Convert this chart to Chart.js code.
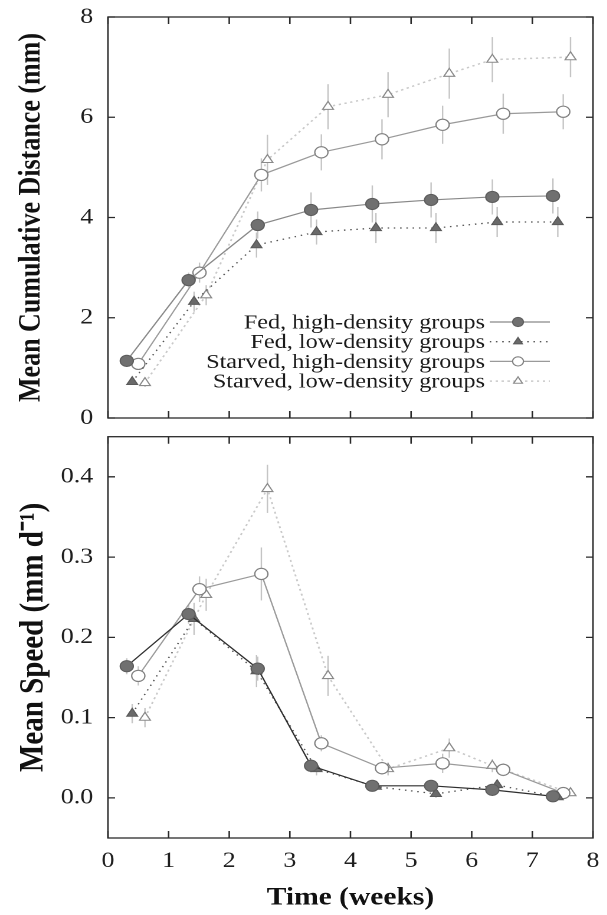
<!DOCTYPE html>
<html>
<head>
<meta charset="utf-8">
<script src="https://cdn.jsdelivr.net/npm/chart.js@4/dist/chart.umd.min.js"></script>
<style>
html, body { margin: 0; padding: 0; background: #fff; overflow: hidden; }
#wrap { position: relative; width: 607px; height: 915px; }
canvas { position: absolute; left: 0; transform-origin: 0 0; transform: scaleX(1.18); }
#topChart { top: 0; }
#bottomChart { top: 430px; }
</style>
</head>
<body>
<div id="wrap">
  <canvas id="topChart" width="514" height="430"></canvas>
  <canvas id="bottomChart" width="514" height="485"></canvas>
</div>
<script>
// the scanned figure is stretched sideways a little, so both canvases get scaleX(1.18)

const xTicks = [0, 1, 2, 3, 4, 5, 6, 7, 8];
const distTicks = [0, 2, 4, 6, 8];
const speedTicks = [0, 0.1, 0.2, 0.3, 0.4];

const seriesLabels = [
  'Fed, high-density groups',
  'Fed, low-density groups',
  'Starved, high-density groups',
  'Starved, low-density groups'
];

// time (weeks) of each sampling, groups are offset a little on the x axis
const timeFedHigh     = [0.31, 1.33, 2.47, 3.35, 4.36, 5.33, 6.34, 7.34];
const timeFedLow      = [0.40, 1.42, 2.45, 3.44, 4.42, 5.41, 6.42, 7.42];
const timeStarvedHigh = [0.50, 1.51, 2.53, 3.52, 4.52, 5.52, 6.52, 7.51];
const timeStarvedLow  = [0.61, 1.62, 2.63, 3.63, 4.62, 5.63, 6.34, 7.63];

// mean cumulative distance (mm) and error
const distFedHigh     = [1.14, 2.75, 3.85, 4.15, 4.27, 4.35, 4.41, 4.43];
const distFedLow      = [0.72, 2.32, 3.45, 3.71, 3.79, 3.79, 3.91, 3.91];
const distStarvedHigh = [1.08, 2.90, 4.85, 5.30, 5.56, 5.85, 6.07, 6.11];
const distStarvedLow  = [0.70, 2.45, 5.15, 6.21, 6.45, 6.87, 7.15, 7.20];

const errDistFedHigh     = [0.08, 0.15, 0.27, 0.35, 0.37, 0.35, 0.35, 0.35];
const errDistFedLow      = [0.06, 0.20, 0.25, 0.25, 0.30, 0.30, 0.30, 0.30];
const errDistStarvedHigh = [0.08, 0.20, 0.33, 0.36, 0.40, 0.38, 0.40, 0.35];
const errDistStarvedLow  = [0.08, 0.20, 0.50, 0.45, 0.45, 0.50, 0.45, 0.40];

// mean speed (mm/d) and error
const speedFedHigh     = [0.164, 0.229, 0.161, 0.040, 0.015, 0.015, 0.010, 0.002];
const speedFedLow      = [0.105, 0.223, 0.158, 0.036, 0.014, 0.005, 0.016, 0.001];
const speedStarvedHigh = [0.152, 0.260, 0.279, 0.068, 0.037, 0.043, 0.035, 0.006];
const speedStarvedLow  = [0.100, 0.253, 0.385, 0.152, 0.036, 0.062, 0.040, 0.006];

const errSpeedFedHigh     = [0.010, 0.012, 0.015, 0.008, 0.005, 0.005, 0.005, 0.003];
const errSpeedFedLow      = [0.012, 0.020, 0.020, 0.008, 0.005, 0.005, 0.005, 0.003];
const errSpeedStarvedHigh = [0.012, 0.016, 0.033, 0.010, 0.008, 0.012, 0.008, 0.004];
const errSpeedStarvedLow  = [0.012, 0.020, 0.030, 0.025, 0.008, 0.012, 0.008, 0.004];

const SERIF = '"Liberation Serif", "Times New Roman", serif';
Chart.defaults.font.family = SERIF;

function styleFedHigh(lineColor) {
  return { borderColor: lineColor, borderWidth: 1.2, pointStyle: 'circle', pointRadius: 5.6,
           pointBackgroundColor: '#707070', pointBorderColor: '#5c5c5c', pointBorderWidth: 1 };
}
function styleFedLow() {
  return { borderColor: '#555555', borderWidth: 1.3, borderDash: [1.3, 4], pointStyle: 'triangle', pointRadius: 5.3,
           pointBackgroundColor: '#6a6a6a', pointBorderColor: '#5a5a5a', pointBorderWidth: 1 };
}
function styleStarvedHigh() {
  return { borderColor: '#9a9a9a', borderWidth: 1.2, pointStyle: 'circle', pointRadius: 5.6,
           pointBackgroundColor: '#ffffff', pointBorderColor: '#808080', pointBorderWidth: 1.1 };
}
function styleStarvedLow() {
  return { borderColor: '#c9c9c9', borderWidth: 1.5, borderDash: [2, 3], pointStyle: 'triangle', pointRadius: 5.3,
           pointBackgroundColor: '#ffffff', pointBorderColor: '#8a8a8a', pointBorderWidth: 1.1 };
}

function series(label, xs, ys, errs, style) {
  return Object.assign({
    label: label,
    data: xs.map((x, i) => ({ x: x, y: ys[i] })),
    errors: errs,
    showLine: true,
    fill: false,
    tension: 0
  }, style);
}

const framePlugin = {
  id: 'frame',
  beforeDatasetsDraw(chart) {
    const { ctx, chartArea: a, scales: { x, y } } = chart;
    ctx.save();
    ctx.strokeStyle = '#2a2a2a';
    ctx.lineWidth = 1.3;
    ctx.strokeRect(a.left, a.top, a.right - a.left, a.bottom - a.top);
    ctx.beginPath();
    x.ticks.forEach(t => {
      const px = x.getPixelForValue(t.value);
      ctx.moveTo(px, a.top); ctx.lineTo(px, a.top + 7);
      ctx.moveTo(px, a.bottom); ctx.lineTo(px, a.bottom - 7);
    });
    y.ticks.forEach(t => {
      const py = y.getPixelForValue(t.value);
      ctx.moveTo(a.left, py); ctx.lineTo(a.left + 6, py);
      ctx.moveTo(a.right, py); ctx.lineTo(a.right - 6, py);
    });
    ctx.stroke();
    ctx.restore();
  }
};

const errorBarPlugin = {
  id: 'errorBars',
  beforeDatasetsDraw(chart) {
    const { ctx, scales: { y } } = chart;
    ctx.save();
    ctx.strokeStyle = '#c4c4c4';
    ctx.lineWidth = 1.2;
    chart.data.datasets.forEach((ds, i) => {
      const meta = chart.getDatasetMeta(i);
      ds.data.forEach((p, j) => {
        const px = meta.data[j].x;
        ctx.beginPath();
        ctx.moveTo(px, y.getPixelForValue(p.y - ds.errors[j]));
        ctx.lineTo(px, y.getPixelForValue(p.y + ds.errors[j]));
        ctx.stroke();
      });
    });
    ctx.restore();
  }
};

// legend sits inside the top panel, text right-aligned, sample line + marker on the right
const insideLegend = {
  id: 'insideLegend',
  afterDraw(chart) {
    const { ctx, chartArea: a } = chart;
    ctx.save();
    ctx.font = '20.5px ' + SERIF;
    ctx.textAlign = 'right';
    ctx.textBaseline = 'middle';
    chart.data.datasets.forEach((ds, i) => {
      const yRow = a.bottom - 96 + i * 19.7;
      ctx.fillStyle = '#1a1a1a';
      ctx.fillText(ds.label, a.right - 91.5, yRow + 1);
      ctx.strokeStyle = ds.borderColor;
      ctx.lineWidth = ds.borderWidth;
      ctx.setLineDash(ds.borderDash || []);
      ctx.beginPath();
      ctx.moveTo(a.right - 87.5, yRow);
      ctx.lineTo(a.right - 36.5, yRow);
      ctx.stroke();
      ctx.setLineDash([]);
      ctx.fillStyle = ds.pointBackgroundColor;
      ctx.strokeStyle = ds.pointBorderColor;
      ctx.lineWidth = ds.pointBorderWidth;
      Chart.helpers.drawPoint(ctx, { pointStyle: ds.pointStyle, radius: ds.pointRadius - 1, rotation: 0, borderWidth: ds.pointBorderWidth }, a.right - 63.5, yRow);
    });
    ctx.restore();
  }
};

function makePanel(canvasId, cfg) {
  return new Chart(document.getElementById(canvasId), {
    type: 'scatter',
    data: { datasets: cfg.datasets },
    options: {
      responsive: false,
      devicePixelRatio: 2,
      animation: false,
      layout: { padding: { top: cfg.padTop, bottom: cfg.padBottom, left: 0, right: 11.5 } },
      plugins: { legend: { display: false }, tooltip: { enabled: false } },
      scales: {
        x: {
          type: 'linear', min: 0, max: 8,
          afterBuildTicks: s => { s.ticks = xTicks.map(v => ({ value: v })); },
          afterFit: s => { s.height = cfg.xHeight; s.paddingLeft = 0; s.paddingRight = 0; },
          grid: { display: false, drawTicks: false },
          border: { display: false },
          ticks: { display: cfg.showX, padding: 10, color: '#1e1e1e', font: { size: 22 } },
          title: { display: cfg.showX, text: 'Time (weeks)', color: '#111',
                   font: { size: 25, weight: 'bold' }, padding: { top: 0, bottom: 2 } }
        },
        y: {
          type: 'linear', min: cfg.yMin, max: cfg.yMax,
          afterBuildTicks: s => { s.ticks = cfg.yTicks.map(v => ({ value: v })); },
          afterFit: s => { s.width = 91.5; s.paddingTop = 0; s.paddingBottom = 0; },
          grid: { display: false, drawTicks: false },
          border: { display: false },
          ticks: { padding: 12.5, color: '#1e1e1e', font: { size: 22 }, callback: cfg.yFormat },
          title: { display: true, text: cfg.yTitle, color: '#111',
                   font: { size: cfg.yTitleSize, weight: 'bold' }, padding: { top: 11, bottom: 0 } }
        }
      }
    },
    plugins: cfg.plugins
  });
}

makePanel('topChart', {
  datasets: [
    series(seriesLabels[0], timeFedHigh, distFedHigh, errDistFedHigh, styleFedHigh('#888888')),
    series(seriesLabels[1], timeFedLow, distFedLow, errDistFedLow, styleFedLow()),
    series(seriesLabels[2], timeStarvedHigh, distStarvedHigh, errDistStarvedHigh, styleStarvedHigh()),
    series(seriesLabels[3], timeStarvedLow, distStarvedLow, errDistStarvedLow, styleStarvedLow())
  ],
  padTop: 17, padBottom: 12, xHeight: 0, showX: false,
  yMin: 0, yMax: 8, yTicks: distTicks, yFormat: v => String(v),
  yTitle: 'Mean Cumulative Distance (mm)', yTitleSize: 26,
  plugins: [framePlugin, errorBarPlugin, insideLegend]
});

makePanel('bottomChart', {
  datasets: [
    series(seriesLabels[0], timeFedHigh, speedFedHigh, errSpeedFedHigh, styleFedHigh('#2e2e2e')),
    series(seriesLabels[1], timeFedLow, speedFedLow, errSpeedFedLow, styleFedLow()),
    series(seriesLabels[2], timeStarvedHigh, speedStarvedHigh, errSpeedStarvedHigh, styleStarvedHigh()),
    series(seriesLabels[3], timeStarvedLow, speedStarvedLow, errSpeedStarvedLow, styleStarvedLow())
  ],
  padTop: 4, padBottom: 0, xHeight: 77, showX: true,
  yMin: -0.05, yMax: 0.45, yTicks: speedTicks, yFormat: v => v.toFixed(1),
  yTitle: 'Mean Speed (mm d\u207B\u00B9)', yTitleSize: 29,
  plugins: [framePlugin, errorBarPlugin]
});
</script>
</body>
</html>
